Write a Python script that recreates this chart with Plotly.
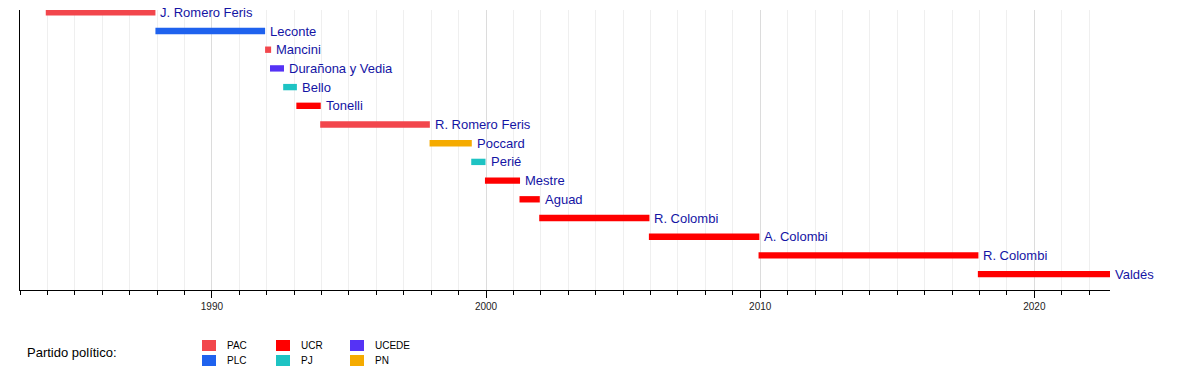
import plotly.graph_objects as go

# ---------------- data ----------------
names = ["J. Romero Feris", "Leconte", "Mancini", "Durañona y Vedia", "Bello",
         "Tonelli", "R. Romero Feris", "Poccard", "Perié", "Mestre", "Aguad",
         "R. Colombi", "A. Colombi", "R. Colombi", "Valdés"]
parties = ["PAC", "PLC", "PAC", "UCEDE", "PJ",
           "UCR", "PAC", "PN", "PJ", "UCR", "UCR",
           "UCR", "UCR", "UCR", "UCR"]
starts = [1983.94, 1987.94, 1991.94, 1992.12, 1992.60,
          1993.08, 1993.95, 1997.94, 1999.46, 1999.96, 2001.22,
          2001.94, 2005.94, 2009.94, 2017.94]
ends = [1987.94, 1991.94, 1992.16, 1992.63, 1993.10,
        1993.97, 1997.95, 1999.48, 1999.98, 2001.24, 2001.96,
        2005.96, 2009.97, 2017.96, 2022.76]

legend_title = "Partido político:"
legend_parties = ["PAC", "PLC", "UCR", "PJ", "UCEDE", "PN"]
x_start, x_end = 1983.0, 2022.76

# ---------------- style ----------------
colors = {"PAC": "#f2464c", "PLC": "#1f62ee", "UCR": "#ff0000",
          "PJ": "#1ec3c3", "UCEDE": "#5533f5", "PN": "#f5ab00"}
FONT = "Liberation Sans, Arial, sans-serif"
LABEL_COLOR = "#1414a4"

OFF = 8                       # page body margin in the browser
W, H = 1200 - OFF, 370 - OFF
PLOT_L, PLOT_T, PLOT_R, PLOT_B = 20, 10, 1110, 290   # target screen px
L, T = PLOT_L - OFF, PLOT_T - OFF
PW, PH = PLOT_R - PLOT_L, PLOT_B - PLOT_T
R, B = W - L - PW, H - T - PH
ROW = 18.7
FIRST_ROW_Y = 12.3

rows = list(range(len(names)))

fig = go.Figure()
for p in legend_parties:
    idx = [i for i, q in enumerate(parties) if q == p]
    if not idx:
        continue
    fig.add_trace(go.Bar(
        orientation="h",
        y=[rows[i] for i in idx],
        x=[ends[i] - starts[i] for i in idx],
        base=[starts[i] for i in idx],
        width=0.34,
        marker=dict(color=colors[p], line=dict(width=0)),
        showlegend=False, hoverinfo="skip",
    ))

for i, n in enumerate(names):
    fig.add_annotation(x=ends[i], y=rows[i], text=n, showarrow=False,
                       xanchor="left", yanchor="middle", xshift=3,
                       font=dict(family=FONT, size=13, color=LABEL_COLOR))

def px2paper(px, py):
    # screen px -> paper coords of the plot area
    return (px - PLOT_L) / PW, (PLOT_B - py) / PH

# legend
lx, ly = px2paper(25, 352)
fig.add_annotation(x=lx, y=ly, xref="paper", yref="paper", text=legend_title,
                   showarrow=False, xanchor="left", yanchor="middle",
                   font=dict(family=FONT, size=13, color="#000000"))
col_x = [202, 276, 350]
row_y = [345.5, 360.5]
for k, p in enumerate(legend_parties):
    cx = col_x[k // 2]
    cy = row_y[k % 2]
    x0, y0 = px2paper(cx, cy + 5.5)
    x1, y1 = px2paper(cx + 14, cy - 5.5)
    fig.add_shape(type="rect", xref="paper", yref="paper", x0=x0, y0=y0,
                  x1=x1, y1=y1, fillcolor=colors[p], line=dict(width=0))
    tx, ty = px2paper(cx + 23, cy)
    fig.add_annotation(x=tx, y=ty, xref="paper", yref="paper", text=p,
                       showarrow=False, xanchor="left", yanchor="middle",
                       font=dict(family=FONT, size=10, color="#000000"))

top_pad = (FIRST_ROW_Y - PLOT_T) / ROW
fig.update_layout(
    width=W, height=H,
    margin=dict(l=L, r=R, t=T, b=B, pad=0),
    paper_bgcolor="white", plot_bgcolor="white",
    barmode="overlay",
    showlegend=False,
    xaxis=dict(range=[x_start, x_end], tick0=1990, dtick=10,
               showgrid=True, gridcolor="#dcdcdc", gridwidth=1,
               ticks="outside", ticklen=7, tickcolor="#000000", tickwidth=1,
               showline=True, linecolor="#000000", linewidth=1,
               zeroline=False,
               tickfont=dict(family=FONT, size=10, color="#222222"),
               minor=dict(dtick=1, tick0=1983, ticks="outside", ticklen=4,
                          tickcolor="#000000", showgrid=True,
                          gridcolor="#efefef", gridwidth=1)),
    yaxis=dict(range=[-top_pad + PH / ROW, -top_pad], showgrid=False,
               zeroline=False, showticklabels=False, ticks="",
               showline=True, linecolor="#000000", linewidth=1),
)

fig.write_html("out.html")
